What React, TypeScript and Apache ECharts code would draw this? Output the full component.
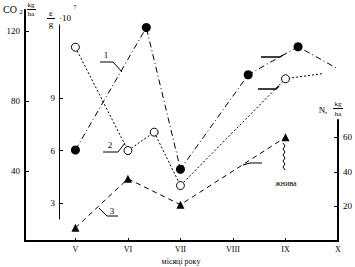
import React, { useEffect, useRef } from "react";
import * as echarts from "echarts";

const monthTicks = [5, 6, 7, 8, 9, 10];
const monthNames = ["V", "VI", "VII", "VIII", "IX", "X"];

// series 1: filled circles (CO2, kg/ha)
const months1 = [5, 6.35, 7, 8.29, 9.24, 9.96];
const co2 = [52, 122, 41, 95, 111, 99];
const marker1 = [true, true, true, true, true, false];

// series 2: open circles (ε/g · 10⁷)
const months2 = [5, 6, 6.5, 7, 9, 9.72];
const eps = [11.9, 6.0, 7.05, 4.0, 10.1, 10.4];
const marker2 = [true, true, true, true, true, false];

// series 3: triangles (N, kg/ha)
const months3 = [5, 6, 7, 9];
const nitrogen = [7.6, 36, 21, 60];

const co2Ticks = [40, 80, 120];
const epsTicks = [3, 6, 9];
const nTicks = [20, 40, 60];

const FONT = "'Liberation Serif', 'DejaVu Serif', serif";

function buildData(xs: number[], ys: number[], marks?: boolean[]) {
  return xs.map((x, i) =>
    marks && !marks[i] ? { value: [x, ys[i]], symbol: "none" } : { value: [x, ys[i]] }
  );
}

export default function App() {
  const ref = useRef<HTMLDivElement>(null);
  useEffect(() => {
    if (!ref.current) return;
    const chart = echarts.init(ref.current, null, { renderer: "svg" });
    const lbl = { color: "#000", fontFamily: FONT, fontSize: 9 };
    const t = (text: string, x: number, y: number, size = 9, align = "center") => ({
      type: "text",
      silent: true,
      style: { text, x, y, fill: "#000", fontFamily: FONT, fontSize: size, textAlign: align, textVerticalAlign: "middle" },
    });
    const pl = (points: number[][], w = 1) => ({
      type: "polyline",
      silent: true,
      shape: { points },
      style: { stroke: "#000", lineWidth: w, fill: "none" },
    });
    const wavy: number[][] = [];
    for (let y = 143, k = 0; y <= 172; y += 3, k++) wavy.push([k % 2 ? 285 : 283, y]);

    chart.setOption({
      animation: false,
      backgroundColor: "#fff",
      grid: [
        { left: 25, right: 17, top: 10, bottom: 26 },
        { left: 59, right: 17, top: 25, bottom: 48 },
        { left: 25, right: 17, top: 120, bottom: 26 },
      ],
      xAxis: [
        {
          gridIndex: 0, type: "value", min: 4.04, max: 10,
          axisLine: { show: true, lineStyle: { color: "#000", width: 2 } },
          axisTick: { show: true, inside: true, length: 3, customValues: monthTicks, lineStyle: { color: "#000" } },
          axisLabel: { ...lbl, fontSize: 8, margin: 4, customValues: monthTicks, formatter: (v: number) => monthNames[monthTicks.indexOf(Math.round(v))] || "" },
          splitLine: { show: false },
        },
        { gridIndex: 1, type: "value", min: 4.688, max: 10, show: false },
        { gridIndex: 2, type: "value", min: 4.04, max: 10, show: false },
      ],
      yAxis: [
        {
          gridIndex: 0, type: "value", min: 0, max: 132, position: "left",
          axisLine: { show: true, lineStyle: { color: "#000", width: 2 } },
          axisTick: { show: true, inside: true, length: 4, customValues: co2Ticks, lineStyle: { color: "#000" } },
          axisLabel: { ...lbl, margin: 5, customValues: co2Ticks },
          splitLine: { show: false },
        },
        {
          gridIndex: 1, type: "value", min: 2.09, max: 13.17, position: "left",
          axisLine: { show: true, lineStyle: { color: "#000", width: 1 } },
          axisTick: { show: true, inside: true, length: 4, customValues: epsTicks, lineStyle: { color: "#000" } },
          axisLabel: { ...lbl, margin: 4, customValues: epsTicks },
          splitLine: { show: false },
        },
        {
          gridIndex: 2, type: "value", min: 0, max: 70, position: "right",
          axisLine: { show: true, lineStyle: { color: "#000", width: 2 } },
          axisTick: { show: true, inside: true, length: 4, customValues: nTicks, lineStyle: { color: "#000" } },
          axisLabel: { ...lbl, margin: 5, customValues: nTicks },
          splitLine: { show: false },
        },
      ],
      series: [
        {
          type: "line", xAxisIndex: 0, yAxisIndex: 0, clip: false,
          data: buildData(months1, co2, marker1),
          symbol: "circle", symbolSize: 9,
          itemStyle: { color: "#000" },
          lineStyle: { color: "#000", width: 1, type: [6, 3, 1, 3] },
        },
        {
          type: "line", xAxisIndex: 1, yAxisIndex: 1, clip: false,
          data: buildData(months2, eps, marker2),
          symbol: "circle", symbolSize: 8,
          itemStyle: { color: "#fff", borderColor: "#000", borderWidth: 1 },
          lineStyle: { color: "#000", width: 1, type: [2, 2] },
        },
        {
          type: "line", xAxisIndex: 2, yAxisIndex: 2, clip: false,
          data: buildData(months3, nitrogen),
          symbol: "triangle", symbolSize: 8,
          itemStyle: { color: "#000" },
          lineStyle: { color: "#000", width: 1, type: [5, 4] },
        },
      ],
      graphic: [
        t("CO", 10, 9, 10),
        t("2", 21, 12, 7),
        t(",", 25, 10, 9),
        t("kg", 31, 5, 7),
        pl([[27, 9.5], [36, 9.5]]),
        t("ha", 31, 14, 7),
        t("ε", 51, 13, 9),
        pl([[47, 18.5], [55, 18.5]]),
        t("g", 51, 24, 9),
        t("·10", 65, 18, 9),
        t("7", 75, 7, 6),
        t("N,", 323, 110, 9),
        t("kg", 338, 104, 7),
        pl([[333, 108.5], [343, 108.5]]),
        t("ha", 338, 114, 7),
        t("місяці року", 181, 261, 8),
        t("1", 106, 55, 9),
        pl([[100, 62], [113, 62], [122, 72]]),
        t("2", 110, 145, 9),
        pl([[103, 152], [118, 152], [125, 143]]),
        t("3", 112, 211, 9),
        pl([[99, 208], [107, 216], [118, 216]]),
        pl([[261, 57], [280, 57], [283, 55]], 1.5),
        pl([[258, 89], [276, 89], [279, 86]], 1.5),
        pl([[243, 165], [250, 163], [262, 163]]),
        pl(wavy),
        t("жнива", 286, 183, 8),
      ],
    });
    return () => chart.dispose();
  }, []);
  return <div ref={ref} style={{ position: "fixed", left: 0, top: 0, width: 355, height: 267 }} />;
}
